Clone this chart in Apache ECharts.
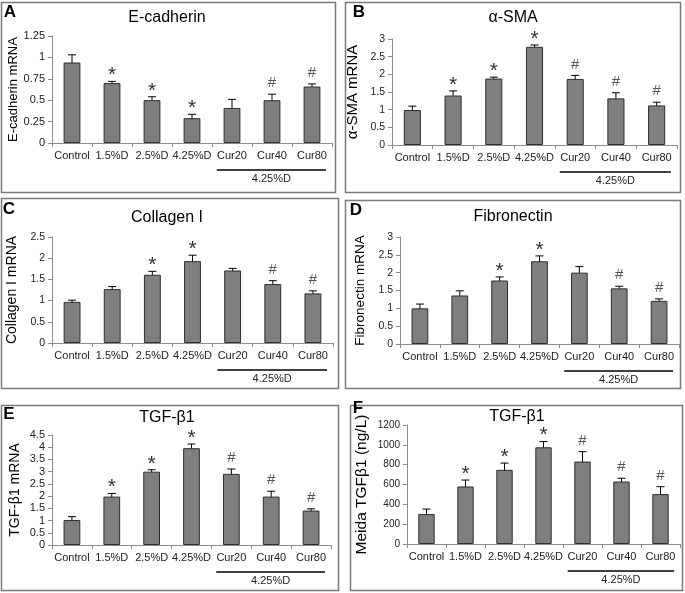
<!DOCTYPE html>
<html><head><meta charset="utf-8">
<script src="https://cdn.jsdelivr.net/npm/echarts@6/dist/echarts.min.js"></script>
<style>html,body{margin:0;padding:0;background:#fff}#c{width:685px;height:593px}</style>
</head><body><div id="c"></div>
<script>
const categories = ['Control','1.5%D','2.5%D','4.25%D','Cur20','Cur40','Cur80'];
const groupLabel = '4.25%D';

const ecadMean = [0.94,0.70,0.50,0.29,0.41,0.50,0.66];
const ecadErr  = [0.09,0.02,0.04,0.045,0.10,0.07,0.03];
const ecadMarks = ['','*','*','*','','#','#'];

const smaMean = [0.99,1.40,1.88,2.78,1.87,1.32,1.12];
const smaErr  = [0.11,0.13,0.04,0.05,0.10,0.16,0.09];
const smaMarks = ['','*','*','*','#','#','#'];

const colMean = [0.97,1.27,1.61,1.93,1.71,1.39,1.17];
const colErr  = [0.04,0.06,0.08,0.14,0.05,0.08,0.06];
const colMarks = ['','','*','*','','#','#'];

const fnMean = [1.00,1.36,1.78,2.32,2.00,1.56,1.21];
const fnErr  = [0.12,0.13,0.10,0.15,0.17,0.06,0.055];
const fnMarks = ['','','*','*','','#','#'];

const tgfMean = [1.02,1.98,3.00,3.96,2.91,1.98,1.41];
const tgfErr  = [0.14,0.13,0.08,0.17,0.20,0.22,0.07];
const tgfMarks = ['','*','*','*','#','#','#'];

const medMean = [302,580,748,975,831,630,503];
const medErr  = [50,65,68,58,100,33,75];
const medMarks = ['','*','*','*','#','#','#'];

const panels = [
  {letter:'A', title:'E-cadherin', yName:'E-cadherin mRNA', mean:ecadMean, err:ecadErr, marks:ecadMarks, max:1.25, interval:0.25,
   grid:{left:52, top:36, width:280, height:107}, box:[1,2,334,190], titlePos:[167,18], letterPos:[10,12], nameGap:32.5, nameSize:13, tickSize:11},
  {letter:'B', title:'α-SMA', yName:'α-SMA mRNA', mean:smaMean, err:smaErr, marks:smaMarks, max:3, interval:0.5,
   grid:{left:392, top:39, width:285, height:106}, box:[345,2,335,190], titlePos:[513,18], letterPos:[359,12], nameGap:31.5, nameSize:15, tickSize:10.5},
  {letter:'C', title:'Collagen I', yName:'Collagen I mRNA', mean:colMean, err:colErr, marks:colMarks, max:2.5, interval:0.5,
   grid:{left:52, top:237, width:281, height:106}, box:[1,198,337,190], titlePos:[167,218], letterPos:[9,209], nameGap:33, nameSize:14, tickSize:10.5},
  {letter:'D', title:'Fibronectin', yName:'Fibronectin mRNA', mean:fnMean, err:fnErr, marks:fnMarks, max:3, interval:0.5,
   grid:{left:400, top:237, width:279, height:107}, box:[345,200,335,188], titlePos:[513,217], letterPos:[356,210], nameGap:33, nameSize:13.5, tickSize:10.5},
  {letter:'E', title:'TGF-β1', yName:'TGF-β1 mRNA', mean:tgfMean, err:tgfErr, marks:tgfMarks, max:4.5, interval:0.5,
   grid:{left:52, top:435, width:279, height:110}, box:[1,405,337,185], titlePos:[167,418], letterPos:[9,414], nameGap:30, nameSize:14, tickSize:11},
  {letter:'F', title:'TGF-β1', yName:'Meida TGFβ1 (ng/L)', mean:medMean, err:medErr, marks:medMarks, max:1200, interval:200,
   grid:{left:407, top:425, width:273, height:119}, box:[350,405,332,185], titlePos:[517,417], letterPos:[358,408], nameGap:37, nameSize:15.5, tickSize:10}
];

const FONT = 'Liberation Sans, Arial, sans-serif';
const grids = [], xAxes = [], yAxes = [], series = [], graphics = [];

panels.forEach((p, i) => {
  grids.push(Object.assign({containLabel:false}, p.grid));
  xAxes.push({
    type:'category', gridIndex:i, data:categories,
    axisLine:{lineStyle:{color:'#8c8c8c', width:1}},
    axisTick:{show:true, alignWithLabel:false, length:4, lineStyle:{color:'#8c8c8c'}},
    axisLabel:{color:'#222', fontSize:11, fontFamily:FONT, margin:7, interval:0}
  });
  yAxes.push({
    type:'value', gridIndex:i, min:0, max:p.max, interval:p.interval,
    name:p.yName, nameLocation:'middle', nameGap:p.nameGap, nameRotate:90,
    nameTextStyle:{color:'#000', fontSize:p.nameSize, fontFamily:FONT},
    axisLine:{show:true, lineStyle:{color:'#8c8c8c', width:1}},
    axisTick:{show:true, length:4, lineStyle:{color:'#8c8c8c'}},
    axisLabel:{color:'#222', fontSize:p.tickSize, fontFamily:FONT, margin:7, formatter:(v) => String(v)},
    splitLine:{show:false}
  });
  series.push({
    type:'bar', xAxisIndex:i, yAxisIndex:i, data:p.mean, barWidth:'42%',
    itemStyle:{color:'#7f7f7f', borderColor:'#2e2e2e', borderWidth:1},
    silent:true, animation:false
  });
  const errData = p.mean.map((m, k) => [k, m, p.err[k]]);
  series.push({
    type:'custom', xAxisIndex:i, yAxisIndex:i, data:errData, clip:false, animation:false, silent:true,
    encode:{x:0, y:1},
    renderItem:(params, api) => {
      const k = api.value(0), m = api.value(1), e = api.value(2);
      const mark = p.marks[k];
      const top = api.coord([k, m + e]);
      const bot = api.coord([k, m - e]);
      const x = top[0];
      const cap = 4;
      const st = {stroke:'#000', lineWidth:1};
      const children = [
        {type:'line', shape:{x1:x, y1:top[1], x2:x, y2:bot[1]}, style:st},
        {type:'line', shape:{x1:x-cap, y1:top[1], x2:x+cap, y2:top[1]}, style:st},
        {type:'line', shape:{x1:x-cap, y1:bot[1], x2:x+cap, y2:bot[1]}, style:st}
      ];
      if (mark === '*') {
        children.push({type:'text', style:{text:'*', x:x, y:top[1]-6, align:'center', verticalAlign:'middle',
          fontSize:21, fontFamily:FONT, fill:'#333'}});
      } else if (mark === '#') {
        children.push({type:'text', style:{text:'#', x:x, y:top[1]-11, align:'center', verticalAlign:'middle',
          fontSize:15, fontFamily:FONT, fill:'#555'}});
      }
      return {type:'group', children};
    }
  });
  series.push({
    type:'custom', xAxisIndex:i, yAxisIndex:i, data:[[4, 6]], clip:false, animation:false, silent:true,
    encode:{x:0},
    renderItem:(params, api) => {
      const a = api.coord([api.value(0), 0]);
      const b = api.coord([api.value(1), 0]);
      const band = api.size([1, 0])[0];
      const x1 = a[0] - 0.38 * band, x2 = b[0] + 0.35 * band;
      const y = a[1] + 27;
      return {type:'group', children:[
        {type:'line', shape:{x1, y1:y, x2, y2:y}, style:{stroke:'#000', lineWidth:1.5}},
        {type:'text', style:{text:groupLabel, x:(x1+x2)/2, y:y+9, align:'center', verticalAlign:'middle',
          fontSize:11, fontFamily:FONT, fill:'#222'}}
      ]};
    }
  });
  graphics.push({type:'rect', shape:{x:p.box[0]+0.5, y:p.box[1]+0.5, width:p.box[2], height:p.box[3]},
    style:{fill:'none', stroke:'#7a7a7a', lineWidth:1.5}, silent:true});
  graphics.push({type:'text', x:p.titlePos[0], y:p.titlePos[1],
    style:{text:p.title, align:'center', verticalAlign:'middle', fontSize:16, fontFamily:FONT, fill:'#000'}});
  graphics.push({type:'text', x:p.letterPos[0], y:p.letterPos[1],
    style:{text:p.letter, align:'center', verticalAlign:'middle', fontSize:17, fontWeight:'bold', fontFamily:FONT, fill:'#000'}});
});

const chart = echarts.init(document.getElementById('c'), null, {renderer:'canvas'});
chart.setOption({
  backgroundColor:'#fff', animation:false,
  grid:grids, xAxis:xAxes, yAxis:yAxes, series:series, graphic:graphics
});
</script></body></html>
